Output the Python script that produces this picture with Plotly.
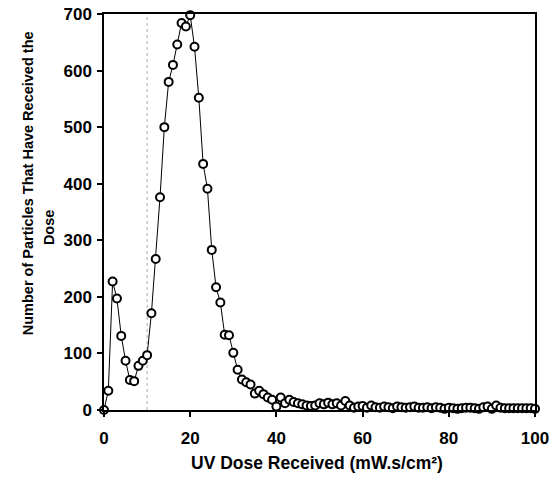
import plotly.graph_objects as go

dose = list(range(0, 101))
particles = [
    0, 34, 227, 197, 131, 87, 53, 51, 78, 87,
    97, 171, 267, 376, 500, 580, 610, 646, 684, 678,
    698, 642, 552, 435, 391, 283, 217, 190, 133, 132,
    101, 71, 54, 49, 45, 29, 34, 28, 22, 18,
    6, 22, 12, 18, 14, 12, 10, 8, 7, 8,
    12, 10, 13, 10, 12, 8, 16, 8, 4, 6,
    7, 4, 8, 5, 4, 6, 5, 3, 6, 5,
    4, 5, 6, 4, 4, 5, 3, 5, 4, 2,
    4, 3, 2, 3, 4, 4, 3, 2, 5, 6,
    2, 8, 4, 3, 3, 3, 3, 3, 3, 3,
    2,
]
x_ticks = [0, 20, 40, 60, 80, 100]
y_ticks = [0, 100, 200, 300, 400, 500, 600, 700]
ref_dose = 10
x_title = "UV Dose Received (mW.s/cm²)"
y_title_lines = ["Number of Particles That Have Received the", "Dose"]

font_family = "Liberation Sans, Arial, sans-serif"

fig = go.Figure()
fig.add_trace(go.Scatter(
    x=dose, y=particles, mode="lines+markers",
    line=dict(color="black", width=1),
    marker=dict(symbol="circle", size=8, color="white",
                line=dict(color="black", width=2)),
    cliponaxis=False, showlegend=False,
))
fig.add_shape(type="line", x0=ref_dose, x1=ref_dose, y0=0, y1=700,
              xref="x", yref="y", layer="below",
              line=dict(color="#aaaaaa", width=1, dash="dot"))

fig.update_layout(
    width=555, height=488,
    margin=dict(l=104, r=20, t=14, b=78),
    paper_bgcolor="white", plot_bgcolor="white",
    font=dict(family=font_family, color="black"),
)
fig.update_xaxes(
    range=[0, 100], tickvals=x_ticks, ticktext=[f"<b>{v}</b>" for v in x_ticks],
    showline=True, linecolor="black", linewidth=1.5, mirror=True,
    ticks="outside", ticklen=5, tickcolor="black", tickwidth=1.5,
    showgrid=False, zeroline=False, tickfont=dict(size=17),
    ticklabelstandoff=7, automargin=False, ticklabeloverflow="allow",
)
fig.update_yaxes(
    range=[0, 700], tickvals=y_ticks, ticktext=[f"<b>{v}</b>" for v in y_ticks],
    showline=True, linecolor="black", linewidth=1.5, mirror=True,
    ticks="outside", ticklen=5, tickcolor="black", tickwidth=1.5,
    showgrid=False, zeroline=False, tickfont=dict(size=17),
    ticklabelstandoff=2, automargin=False, ticklabeloverflow="allow",
)
fig.add_annotation(text=f"<b>{x_title}</b>", xref="paper", yref="paper",
                   x=0.495, y=-0.134, xanchor="center", yanchor="middle",
                   showarrow=False, font=dict(size=17.5))
fig.add_annotation(text=f"<b>{y_title_lines[0]}</b>", xref="paper", yref="paper",
                   x=-0.176, y=0.573, xanchor="center", yanchor="middle",
                   textangle=-90, showarrow=False, font=dict(size=14.5))
fig.add_annotation(text=f"<b>{y_title_lines[1]}</b>", xref="paper", yref="paper",
                   x=-0.127, y=0.46, xanchor="center", yanchor="middle",
                   textangle=-90, showarrow=False, font=dict(size=14.5))

fig.write_html("out.html", config={"displayModeBar": False},
               post_script="document.body.style.margin='0';")
